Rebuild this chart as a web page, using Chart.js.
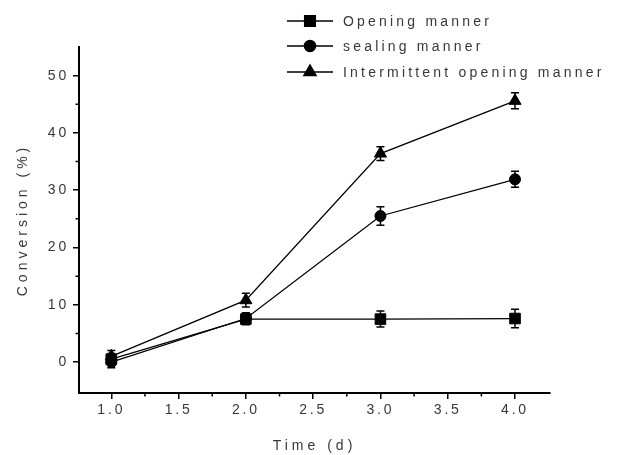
<!DOCTYPE html>
<html><head><meta charset="utf-8">
<script src="https://cdn.jsdelivr.net/npm/chart.js@4.4.1/dist/chart.umd.min.js"></script>
<style>html,body{margin:0;padding:0;background:#fff}canvas{display:block}</style>
</head><body>
<canvas id="c" width="617" height="455"></canvas>
<script>
const timeDays = [1.0, 2.0, 3.0, 4.0];
const openingManner = [0.5, 7.5, 7.5, 7.6];
const openingErr = [1.0, 1.0, 1.4, 1.6];
const sealingManner = [0.0, 7.6, 25.5, 31.9];
const sealingErr = [1.0, 1.0, 1.6, 1.4];
const intermittentManner = [1.0, 10.8, 36.4, 45.6];
const intermittentErr = [1.0, 1.2, 1.2, 1.4];
const seriesLabels = ['Opening manner', 'sealing manner', 'Intermittent opening manner'];
const xTickValues = [1.0, 1.5, 2.0, 2.5, 3.0, 3.5, 4.0];
const yTickValues = [0, 10, 20, 30, 40, 50];
const xMinorTicks = [1.25, 1.75, 2.25, 2.75, 3.25, 3.75];
const yMinorTicks = [5, 15, 25, 35, 45];

const TEXT = '#383838';
const FONT = "'Liberation Sans', Arial, sans-serif";

function pts(vals){ return timeDays.map((t,i)=>({x:t, y:vals[i]})); }

// wider letter spacing for axis titles
const origDrawTitle = Chart.Scale.prototype.drawTitle;
Chart.Scale.prototype.drawTitle = function(){
  const c = this.ctx; const prev = c.letterSpacing;
  c.letterSpacing = '4px'; origDrawTitle.call(this); c.letterSpacing = prev;
};

const letterSpacingPlugin = {
  id:'ls',
  beforeDraw(chart){ chart.ctx.letterSpacing = '2.8px'; },
  afterDraw(chart){ chart.ctx.letterSpacing = '0px'; }
};

const errorBars = {
  id:'errorBars',
  beforeDatasetsDraw(chart){
    const {ctx, scales:{x, y}} = chart;
    ctx.save();
    ctx.strokeStyle = '#000'; ctx.lineWidth = 1.5;
    chart.data.datasets.forEach(ds=>{
      ds.data.forEach((p,i)=>{
        const e = ds.errors[i];
        const px = x.getPixelForValue(p.x);
        const t = y.getPixelForValue(p.y + e), b = y.getPixelForValue(p.y - e);
        ctx.beginPath();
        ctx.moveTo(px, t); ctx.lineTo(px, b);
        ctx.moveTo(px-4, t); ctx.lineTo(px+4, t);
        ctx.moveTo(px-4, b); ctx.lineTo(px+4, b);
        ctx.stroke();
      });
    });
    ctx.restore();
  }
};

const minorTicks = {
  id:'minorTicks',
  afterDraw(chart){
    const {ctx, scales:{x, y}} = chart;
    ctx.save();
    ctx.strokeStyle = '#000'; ctx.lineWidth = 1.5;
    ctx.beginPath();
    xMinorTicks.forEach(v=>{ const px = x.getPixelForValue(v); ctx.moveTo(px, x.top); ctx.lineTo(px, x.top+3.5); });
    yMinorTicks.forEach(v=>{ const py = y.getPixelForValue(v); ctx.moveTo(y.right, py); ctx.lineTo(y.right-3.5, py); });
    ctx.stroke();
    ctx.restore();
  }
};

const customLegend = {
  id:'customLegend',
  afterDraw(chart){
    const ctx = chart.ctx;
    const rows = [21, 46, 72];
    ctx.save();
    chart.data.datasets.forEach((ds,i)=>{
      const yy = rows[i];
      ctx.strokeStyle = '#000'; ctx.fillStyle = '#000'; ctx.lineWidth = 1.5;
      ctx.beginPath(); ctx.moveTo(287, yy); ctx.lineTo(333, yy); ctx.stroke();
      Chart.helpers.drawPoint(ctx, {pointStyle: ds.pointStyle, radius: ds.pointRadius, rotation:0, borderWidth:1}, 310, yy);
      ctx.letterSpacing = '3.2px';
      ctx.font = '14px ' + FONT;
      ctx.fillStyle = TEXT; ctx.textBaseline = 'middle'; ctx.textAlign = 'left';
      ctx.fillText(ds.label, 343, yy + 1);
    });
    ctx.restore();
  }
};

function mkDs(label, vals, errs, style, r){
  return {label, data: pts(vals), errors: errs, borderColor:'#000', backgroundColor:'#000',
    borderWidth:1.3, pointStyle: style, pointRadius: r, pointHoverRadius: r,
    pointBorderWidth:1, tension:0, fill:false};
}

new Chart(document.getElementById('c'), {
  type:'line',
  data:{ datasets:[
    mkDs(seriesLabels[0], openingManner, openingErr, 'rect', 7.5),
    mkDs(seriesLabels[1], sealingManner, sealingErr, 'circle', 5.5),
    mkDs(seriesLabels[2], intermittentManner, intermittentErr, 'triangle', 7)
  ]},
  options:{
    responsive:false, animation:false, events:[],
    layout:{padding:{left:0, top:47, right:67, bottom:0}},
    plugins:{legend:{display:false}, tooltip:{enabled:false}},
    scales:{
      x:{
        type:'linear', min:0.76, max:4.26,
        afterBuildTicks(s){ s.ticks = xTickValues.map(v=>({value:v})); },
        afterFit(s){ s.height = 62; },
        ticks:{ color:TEXT, font:{family:FONT, size:14}, padding:3, maxRotation:0,
          callback:(v)=>Number(v).toFixed(1) },
        grid:{ display:true, drawOnChartArea:false, drawTicks:true, tickLength:6, color:'#000', lineWidth:1.5 },
        border:{ display:true, color:'#000', width:2 },
        title:{ display:true, text:'Time (d)', color:TEXT, font:{family:FONT, size:14}, padding:{top:0, bottom:0} }
      },
      y:{
        type:'linear', min:-5.4, max:55,
        afterBuildTicks(s){ s.ticks = yTickValues.map(v=>({value:v})); },
        afterFit(s){ s.width = 79; },
        ticks:{ color:TEXT, font:{family:FONT, size:14}, padding:4 },
        grid:{ display:true, drawOnChartArea:false, drawTicks:true, tickLength:6, color:'#000', lineWidth:1.5 },
        border:{ display:true, color:'#000', width:2 },
        title:{ display:true, text:'Conversion (%)', color:TEXT, font:{family:FONT, size:14}, padding:{top:15, bottom:0} }
      }
    }
  },
  plugins:[letterSpacingPlugin, errorBars, minorTicks, customLegend]
});
</script>
</body></html>
